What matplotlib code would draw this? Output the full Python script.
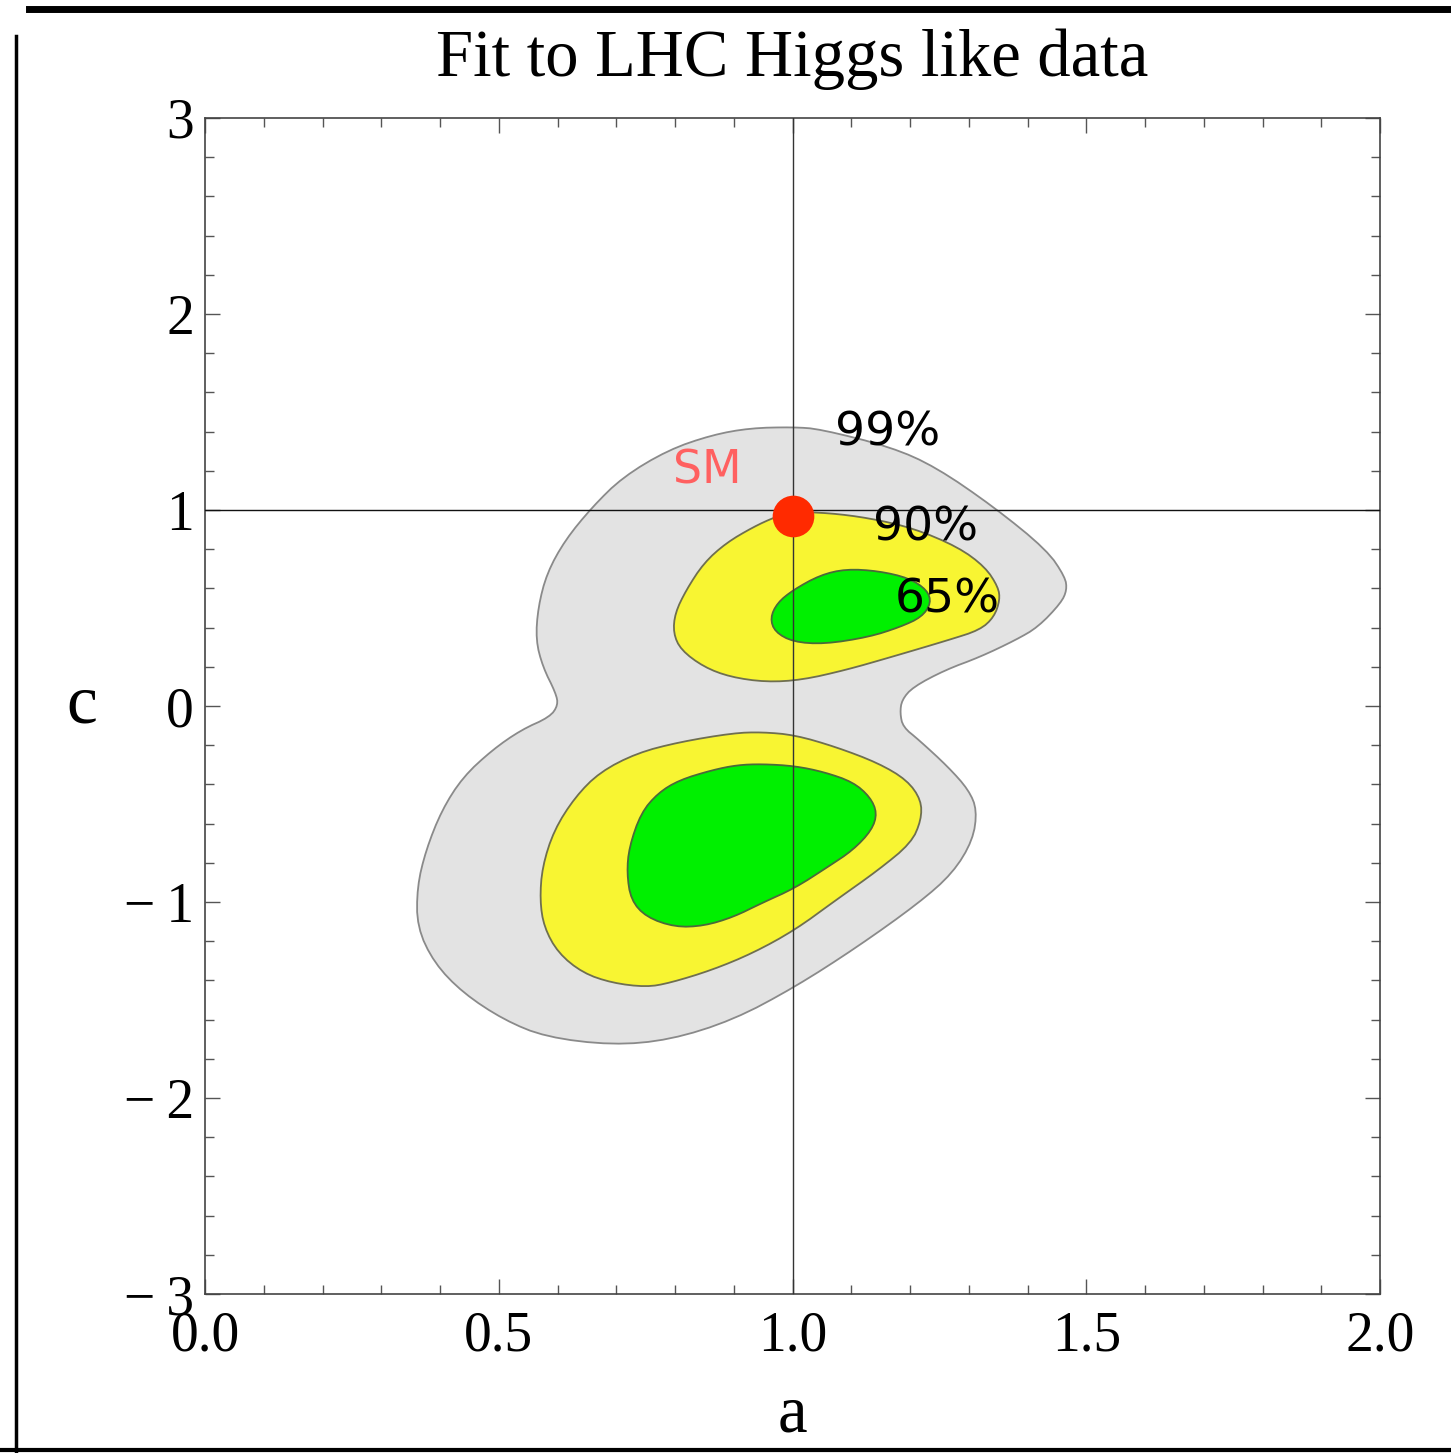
import matplotlib
matplotlib.use("Agg")
import matplotlib.pyplot as plt
from matplotlib.patches import Polygon
from matplotlib.lines import Line2D
from matplotlib.ticker import MultipleLocator, FuncFormatter

# 99% region (outer, grey)
a99 = [1.001, 1.047, 1.168, 1.244, 1.343, 1.433, 1.464, 1.467, 1.457, 1.418, 1.380, 1.319,
       1.260, 1.205, 1.186, 1.183, 1.188, 1.215, 1.265, 1.300, 1.314, 1.307, 1.273, 1.215,
       1.110, 1.004, 0.899, 0.791, 0.693, 0.580, 0.509, 0.439, 0.390, 0.361, 0.361, 0.376,
       0.403, 0.439, 0.489, 0.538, 0.587, 0.601, 0.597, 0.575, 0.563, 0.567, 0.582, 0.613,
       0.659, 0.711, 0.788, 0.863, 0.928]
c99 = [1.423, 1.413, 1.321, 1.219, 1.015, 0.796, 0.658, 0.592, 0.526, 0.403, 0.337, 0.250,
       0.184, 0.097, 0.031, -0.036, -0.107, -0.173, -0.311, -0.429, -0.531, -0.684, -0.852, -1.005,
       -1.230, -1.434, -1.602, -1.704, -1.730, -1.689, -1.602, -1.464, -1.311, -1.128, -0.923, -0.735,
       -0.531, -0.362, -0.224, -0.122, -0.056, 0.005, 0.066, 0.199, 0.337, 0.505, 0.679, 0.847,
       1.015, 1.168, 1.306, 1.383, 1.418]

# 90% regions (yellow)
a90_up = [1.001, 1.062, 1.130, 1.205, 1.282, 1.328, 1.350, 1.353, 1.343, 1.319, 1.266, 1.168,
          1.091, 1.016, 0.955, 0.894, 0.849, 0.810, 0.797, 0.800, 0.819, 0.849, 0.887, 0.933, 0.970]
c90_up = [0.990, 0.985, 0.959, 0.908, 0.811, 0.709, 0.607, 0.541, 0.454, 0.388, 0.337, 0.250,
          0.184, 0.133, 0.122, 0.148, 0.199, 0.286, 0.372, 0.474, 0.592, 0.730, 0.832, 0.913, 0.964]
a90_lo = [0.948, 1.004, 1.074, 1.146, 1.195, 1.219, 1.219, 1.202, 1.146, 1.074, 1.004, 0.933,
          0.863, 0.791, 0.751, 0.693, 0.643, 0.601, 0.577, 0.570, 0.574, 0.594, 0.630, 0.672,
          0.735, 0.807, 0.899]
c90_lo = [-0.133, -0.148, -0.209, -0.291, -0.378, -0.480, -0.582, -0.699, -0.837, -0.990, -1.143, -1.260,
          -1.347, -1.413, -1.434, -1.413, -1.362, -1.260, -1.128, -0.990, -0.821, -0.633, -0.464, -0.337,
          -0.240, -0.184, -0.138]

# 65% regions (green)
a65_up = [1.091, 1.146, 1.198, 1.229, 1.236, 1.220, 1.183, 1.130, 1.054, 1.001, 0.970, 0.962,
          0.974, 1.001, 1.047]
c65_up = [0.699, 0.689, 0.653, 0.592, 0.526, 0.454, 0.403, 0.352, 0.316, 0.327, 0.378, 0.449,
          0.526, 0.592, 0.668]
a65_lo = [0.948, 1.004, 1.054, 1.103, 1.132, 1.144, 1.135, 1.103, 1.060, 1.004, 0.948, 0.899,
          0.849, 0.800, 0.751, 0.725, 0.718, 0.722, 0.742, 0.771, 0.807, 0.863, 0.906]
c65_lo = [-0.296, -0.306, -0.337, -0.388, -0.464, -0.546, -0.633, -0.735, -0.821, -0.929, -1.005, -1.077,
          -1.122, -1.128, -1.077, -0.990, -0.852, -0.719, -0.546, -0.444, -0.378, -0.327, -0.301]

sm_a, sm_c = 1.0, 0.97
labels = ["99%", "90%", "65%"]
label_a = [1.162, 1.226, 1.263]
label_c = [1.393, 0.908, 0.541]


def smooth(xs, ys, n=2):
    # chaikin corner cutting on a closed ring
    pts = list(zip(xs, ys))
    for _ in range(n):
        new = []
        for i in range(len(pts)):
            p, q = pts[i], pts[(i + 1) % len(pts)]
            new.append((0.75 * p[0] + 0.25 * q[0], 0.75 * p[1] + 0.25 * q[1]))
            new.append((0.25 * p[0] + 0.75 * q[0], 0.25 * p[1] + 0.75 * q[1]))
        pts = new
    return pts


serif = "Liberation Serif"
fig = plt.figure(figsize=(14.51, 14.53), dpi=100)
ax = fig.add_axes([0.1413, 0.1094, 0.8098, 0.8094])

regions = [
    (a99, c99, "#e3e3e3", "#8a8a8a"),
    (a90_up, c90_up, "#f8f532", "#6f6f50"),
    (a90_lo, c90_lo, "#f8f532", "#6f6f50"),
    (a65_up, c65_up, "#00f000", "#4a6a3a"),
    (a65_lo, c65_lo, "#00f000", "#4a6a3a"),
]
for xs, ys, fc, ec in regions:
    ax.add_patch(Polygon(smooth(xs, ys), closed=True, facecolor=fc, edgecolor=ec, lw=1.3, zorder=2))

ax.axvline(1.0, color="#333333", lw=1.0, zorder=3)
ax.axhline(1.0, color="#111111", lw=1.0, zorder=3)
ax.plot([sm_a], [sm_c], "o", ms=30, color="#ff2a00", mec="none", zorder=5)

ax.text(0.855, 1.20, "SM", color="#ff6060", fontsize=33, ha="center", va="center", zorder=6)
for t, x, y in zip(labels, label_a, label_c):
    ax.text(x, y, t, color="black", fontsize=34, fontweight="medium", ha="center", va="center", zorder=6)

ax.set_xlim(0, 2)
ax.set_ylim(-3, 3)
ax.xaxis.set_major_locator(MultipleLocator(0.5))
ax.xaxis.set_minor_locator(MultipleLocator(0.1))
ax.yaxis.set_major_locator(MultipleLocator(1))
ax.yaxis.set_minor_locator(MultipleLocator(0.2))
ax.xaxis.set_major_formatter(FuncFormatter(lambda v, p: f"{v:.1f}"))
ax.yaxis.set_major_formatter(FuncFormatter(lambda v, p: f"{int(round(v))}".replace("-", "\u2212\u2009")))
ax.tick_params(which="both", direction="in", top=True, right=True, color="#555555", width=1.0)
ax.tick_params(which="major", length=11)
ax.tick_params(which="minor", length=6.5)
ax.tick_params(axis="x", which="major", pad=12, labelsize=40)
ax.tick_params(axis="y", which="major", pad=8, labelsize=40)
for lab in ax.get_xticklabels() + ax.get_yticklabels():
    lab.set_family(serif)
for s in ax.spines.values():
    s.set_color("#444444")
    s.set_linewidth(1.2)

ax.set_xlabel("a", fontsize=48, family=serif, labelpad=16)
ax.set_ylabel("c", fontsize=50, family=serif, rotation=0, labelpad=30, va="center")
fig.text(0.546, 0.959, "Fit to LHC Higgs like data", fontsize=48, family=serif, ha="center", va="center")

# rough hand-drawn frame
fig.add_artist(Line2D([0.02, 1.0], [0.994, 0.994], color="black", lw=5, transform=fig.transFigure))
fig.add_artist(Line2D([0.011, 0.011], [0.0, 0.975], color="black", lw=2.5, transform=fig.transFigure))
fig.add_artist(Line2D([0.0, 1.0], [0.002, 0.002], color="black", lw=3, transform=fig.transFigure))

fig.savefig("out.png", dpi=100)
